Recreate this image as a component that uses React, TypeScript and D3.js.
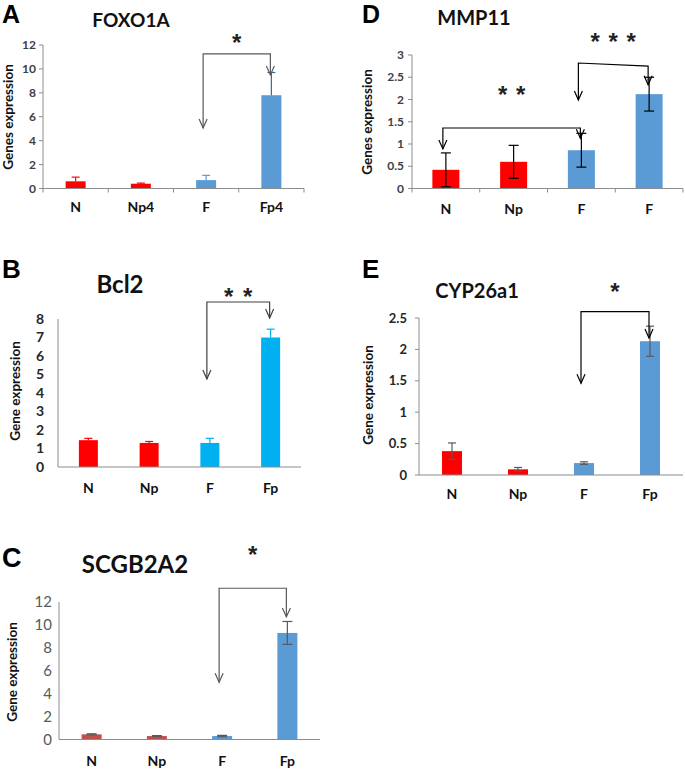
import React from "react";
import * as d3 from "d3";

// ---------- DATA ----------
const catsA = ["N", "Np4", "F", "Fp4"];
const valsA = [0.6, 0.4, 0.7, 7.8];
const errsA = [0.35, 0.05, 0.4, 1.9];
const ticksA = [0, 2, 4, 6, 8, 10, 12];
const sigA = [{ from: 2, to: 3, topFrom: 11.25, topTo: 11.25, tipFrom: 5.05, tipTo: 9.5, stars: 1, starY: 12.6 }];

const catsB = ["N", "Np", "F", "Fp"];
const valsB = [1.45, 1.3, 1.3, 7.0];
const errsB = [0.1, 0.08, 0.25, 0.45];
const ticksB = [0, 1, 2, 3, 4, 5, 6, 7, 8];
const sigB = [{ from: 2, to: 3, topFrom: 8.92, topTo: 8.92, tipFrom: 4.76, tipTo: 8.05, stars: 2, starY: 9.45 }];

const catsC = ["N", "Np", "F", "Fp"];
const valsC = [0.45, 0.3, 0.3, 9.3];
const errsC = [0.05, 0.04, 0.06, 1.0];
const ticksC = [0, 2, 4, 6, 8, 10, 12];
const sigC = [{ from: 2, to: 3, topFrom: 13.2, topTo: 13.2, tipFrom: 5.0, tipTo: 10.7, stars: 1, starY: 16.5 }];

const catsD = ["N", "Np", "F", "F"];
const valsD = [0.42, 0.6, 0.86, 2.12];
const errsD = [0.38, 0.37, 0.38, 0.38];
const ticksD = [0, 0.5, 1, 1.5, 2, 2.5, 3];
const sigD = [
  { from: 0, to: 2, topFrom: 1.36, topTo: 1.36, tipFrom: 0.89, tipTo: 1.13, stars: 2, starY: 2.21 },
  { from: 2, to: 3, topFrom: 2.82, topTo: 2.75, tipFrom: 1.99, tipTo: 2.33, stars: 3, starY: 3.4 },
];

const catsE = ["N", "Np", "F", "Fp"];
const valsE = [0.38, 0.09, 0.19, 2.13];
const errsE = [0.13, 0.03, 0.02, 0.24];
const ticksE = [0, 0.5, 1, 1.5, 2, 2.5];
const sigE = [{ from: 2, to: 3, topFrom: 2.6, topTo: 2.6, tipFrom: 1.46, tipTo: 2.18, stars: 1, starY: 2.99 }];

// ---------- LAYOUT / STYLE ----------
const RED = "#FF0000";
const BLUE = "#5B9BD5";
const CYAN = "#00B0F0";
const DRED = "#C0504D";
const TXT = "Lato, 'Open Sans', sans-serif";
const LET = "'Liberation Sans', Arial, sans-serif";

const panels = [
  {
    cats: catsA, vals: valsA, errs: errsA, ticks: ticksA, sig: sigA,
    letter: "A", letterX: 2, letterY: 23, letterSize: 25,
    title: "FOXO1A", titleX: 131, titleY: 27, titleSize: 19,
    x0: 43, x1: 304, yTop: 45, yBottom: 188.5, barW: 20,
    yLabel: "Genes expression", yLabelX: 8, yLabelY: 117, yLabelSize: 13.5,
    tickSize: 12, tickWeight: "bold", tickColor: "#404040", tickRight: 36,
    xTicks: true, yTicks: true, catY: 212, catSize: 14,
    colors: [RED, RED, BLUE, BLUE], errMode: "up", errColors: [RED, RED, BLUE, "#3A6A9A"], cap: 4,
    arrowColor: "#595959", starSpacing: 18,
  },
  {
    cats: catsB, vals: valsB, errs: errsB, ticks: ticksB, sig: sigB,
    letter: "B", letterX: 2, letterY: 278, letterSize: 26,
    title: "Bcl2", titleX: 120, titleY: 293, titleSize: 24,
    x0: 58, x1: 301, yTop: 319, yBottom: 467, barW: 19,
    yLabel: "Gene expression", yLabelX: 15, yLabelY: 391, yLabelSize: 13.5,
    tickSize: 14, tickWeight: "bold", tickColor: "#262626", tickRight: 44,
    xTicks: false, yTicks: false, catY: 493, catSize: 14,
    colors: [RED, RED, CYAN, CYAN], errMode: "up", errColors: [RED, RED, CYAN, CYAN], cap: 4,
    arrowColor: "#404040", starSpacing: 19,
  },
  {
    cats: catsC, vals: valsC, errs: errsC, ticks: ticksC, sig: sigC,
    letter: "C", letterX: 2, letterY: 567, letterSize: 27,
    title: "SCGB2A2", titleX: 135, titleY: 573, titleSize: 24,
    x0: 59, x1: 320, yTop: 602, yBottom: 739.5, barW: 20,
    yLabel: "Gene expression", yLabelX: 12, yLabelY: 672, yLabelSize: 13.5,
    tickSize: 15, tickWeight: "normal", tickColor: "#595959", tickRight: 52,
    xTicks: false, yTicks: false, catY: 766, catSize: 14,
    colors: [DRED, DRED, BLUE, BLUE], errMode: "both", errColors: ["#595959", "#595959", "#595959", "#595959"], cap: 5,
    arrowColor: "#595959", starSpacing: 18,
  },
  {
    cats: catsD, vals: valsD, errs: errsD, ticks: ticksD, sig: sigD,
    letter: "D", letterX: 362, letterY: 23, letterSize: 25,
    title: "MMP11", titleX: 474, titleY: 25, titleSize: 20,
    x0: 412, x1: 683, yTop: 55, yBottom: 188.5, barW: 27,
    yLabel: "Genes expression", yLabelX: 367, yLabelY: 122, yLabelSize: 13.5,
    tickSize: 12, tickWeight: "bold", tickColor: "#404040", tickRight: 404,
    xTicks: true, yTicks: true, catY: 214, catSize: 14,
    colors: [RED, RED, BLUE, BLUE], errMode: "both", errColors: ["#000", "#000", "#000", "#000"], cap: 5,
    arrowColor: "#000", starSpacing: 18,
  },
  {
    cats: catsE, vals: valsE, errs: errsE, ticks: ticksE, sig: sigE,
    letter: "E", letterX: 362, letterY: 278, letterSize: 26,
    title: "CYP26a1", titleX: 477, titleY: 298, titleSize: 20,
    x0: 419, x1: 683, yTop: 318, yBottom: 475, barW: 20,
    yLabel: "Gene expression", yLabelX: 368, yLabelY: 395, yLabelSize: 13.5,
    tickSize: 13, tickWeight: "bold", tickColor: "#262626", tickRight: 407,
    xTicks: false, yTicks: true, catY: 499, catSize: 14,
    colors: [RED, RED, BLUE, BLUE], errMode: "both", errColors: ["#595959", "#595959", "#595959", "#595959"], cap: 4,
    arrowColor: "#000", starSpacing: 18,
  },
];

function Panel({ p }: { p: any }) {
  const idx = d3.range(p.cats.length);
  const x = d3.scaleBand<number>().domain(idx).range([p.x0, p.x1]).padding(0);
  const y = d3.scaleLinear().domain([0, p.ticks[p.ticks.length - 1]]).range([p.yBottom, p.yTop]);
  const cx = (i: number) => (x(i) as number) + x.bandwidth() / 2;
  const axisColor = "#8C8C8C";
  return (
    <g>
      <text x={p.letterX} y={p.letterY} fontFamily={LET} fontWeight="bold" fontSize={p.letterSize} fill="#000">
        {p.letter}
      </text>
      <text x={p.titleX} y={p.titleY} textAnchor="middle" fontFamily={TXT} fontWeight="bold" fontSize={p.titleSize} fill="#111">
        {p.title}
      </text>
      <text
        transform={`translate(${p.yLabelX},${p.yLabelY}) rotate(-90)`}
        textAnchor="middle"
        dy="0.35em"
        fontFamily={TXT}
        fontWeight="bold"
        fontSize={p.yLabelSize}
        fill="#111"
      >
        {p.yLabel}
      </text>
      {/* y axis */}
      <line x1={p.x0} x2={p.x0} y1={p.yBottom} y2={p.yTop} stroke={axisColor} strokeWidth={1} />
      {p.ticks.map((t: number) => (
        <g key={t}>
          {p.yTicks && <line x1={p.x0 - 4} x2={p.x0} y1={y(t)} y2={y(t)} stroke={axisColor} />}
          <text
            x={p.tickRight}
            y={y(t)}
            dy="0.35em"
            textAnchor="end"
            fontFamily={TXT}
            fontWeight={p.tickWeight}
            fontSize={p.tickSize}
            fill={p.tickColor}
          >
            {t}
          </text>
        </g>
      ))}
      {/* bars */}
      {idx.map((i) => (
        <rect
          key={i}
          x={cx(i) - p.barW / 2}
          y={y(p.vals[i])}
          width={p.barW}
          height={p.yBottom - y(p.vals[i])}
          fill={p.colors[i]}
        />
      ))}
      {/* x axis */}
      <line x1={p.x0} x2={p.x1} y1={p.yBottom} y2={p.yBottom} stroke={axisColor} strokeWidth={1} />
      {p.xTicks &&
        d3.range(p.cats.length + 1).map((k) => {
          const xx = p.x0 + k * x.bandwidth();
          return <line key={k} x1={xx} x2={xx} y1={p.yBottom} y2={p.yBottom + 4} stroke={axisColor} />;
        })}
      {/* error bars */}
      {idx.map((i) => {
        const v = p.vals[i];
        const e = p.errs[i];
        const hi = y(v + e);
        const lo = p.errMode === "both" ? y(v - e) : y(v);
        const c = p.errColors[i];
        return (
          <g key={i} stroke={c} strokeWidth={1.2}>
            <line x1={cx(i)} x2={cx(i)} y1={hi} y2={lo} />
            <line x1={cx(i) - p.cap} x2={cx(i) + p.cap} y1={hi} y2={hi} />
            {p.errMode === "both" && <line x1={cx(i) - p.cap} x2={cx(i) + p.cap} y1={lo} y2={lo} />}
          </g>
        );
      })}
      {/* category labels */}
      {idx.map((i) => (
        <text key={i} x={cx(i)} y={p.catY} textAnchor="middle" fontFamily={TXT} fontWeight="bold" fontSize={p.catSize} fill="#111">
          {p.cats[i]}
        </text>
      ))}
      {/* significance brackets */}
      {p.sig.map((s: any, k: number) => {
        const xf = cx(s.from) - 3;
        const xt = cx(s.to) - 1;
        const tf = y(s.tipFrom);
        const tt = y(s.tipTo);
        const path = `M${xf},${tf} V${y(s.topFrom)} L${xt},${y(s.topTo)} V${tt}`;
        const head = (xx: number, yy: number) => `M${xx - 4},${yy - 9} L${xx},${yy} L${xx + 4},${yy - 9}`;
        const mid = (xf + xt) / 2;
        const starXs = d3.range(s.stars).map((j) => mid + (j - (s.stars - 1) / 2) * p.starSpacing);
        return (
          <g key={k}>
            <path d={path} fill="none" stroke={p.arrowColor} strokeWidth={1.2} />
            <path d={head(xf, tf)} fill="none" stroke={p.arrowColor} strokeWidth={1.2} />
            <path d={head(xt, tt)} fill="none" stroke={p.arrowColor} strokeWidth={1.2} />
            {starXs.map((sx: number, j: number) => (
              <text key={j} x={sx} y={y(s.starY) + 13} textAnchor="middle" fontFamily={LET} fontWeight="bold" fontSize={24} fill="#222">
                *
              </text>
            ))}
          </g>
        );
      })}
    </g>
  );
}

export default function App() {
  return (
    <svg
      width={685}
      height={769}
      style={{ position: "absolute", left: 0, top: 0, background: "#fff" }}
    >
      <rect width={685} height={769} fill="#fff" />
      {panels.map((p, i) => (
        <Panel key={i} p={p} />
      ))}
    </svg>
  );
}
